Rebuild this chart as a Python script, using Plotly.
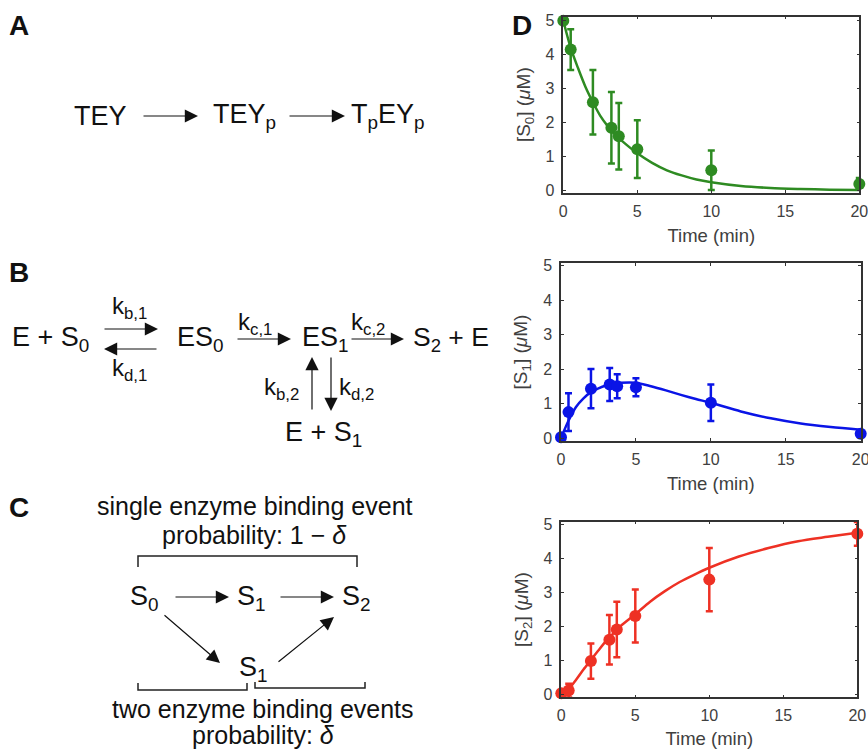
import plotly.graph_objects as go

W, H = 868, 749
# the figure runs a little past the window so the tick labels at x = 20 are kept, and are cut by the window edge
FIG_W = 890
LEFT_PAD = 3
FONT = "Liberation Sans"


def px(x):
    return x / FIG_W


def py(y):
    return 1 - y / H


# ---------- data ----------
time_points = [0, 0.5, 2, 3.25, 3.75, 5, 10, 20]
s0_values = [5.0, 4.15, 2.6, 1.85, 1.6, 1.22, 0.6, 0.2]
s0_errors = [0, 0.6, 0.95, 1.05, 0.98, 0.85, 0.58, 0.17]
s1_values = [0.02, 0.75, 1.43, 1.55, 1.5, 1.47, 1.02, 0.12]
s1_errors = [0, 0.55, 0.57, 0.48, 0.35, 0.26, 0.53, 0.1]
s2_values = [0.02, 0.1, 0.97, 1.6, 1.9, 2.3, 3.37, 4.72]
s2_errors = [0, 0.2, 0.52, 0.73, 0.82, 0.78, 0.93, 0.35]

fit_time = [0, 0.5, 1, 1.5, 2, 2.5, 3, 3.5, 4, 5, 6, 7, 8, 9, 10, 12, 14, 16, 18, 20]
s0_fit = [5.0, 4.2, 3.6, 3.05, 2.6, 2.2, 1.9, 1.65, 1.45, 1.1, 0.82, 0.6, 0.45, 0.33, 0.25, 0.14, 0.08, 0.05, 0.03, 0.02]
s1_fit = [0, 0.5, 0.9, 1.15, 1.33, 1.44, 1.52, 1.57, 1.6, 1.6, 1.5, 1.38, 1.25, 1.13, 1.02, 0.77, 0.57, 0.42, 0.32, 0.24]
s2_fit = [0, 0.15, 0.42, 0.72, 1.0, 1.28, 1.55, 1.78, 2.0, 2.35, 2.72, 3.03, 3.3, 3.52, 3.72, 4.05, 4.3, 4.5, 4.63, 4.75]

x_ticks = [0, 5, 10, 15, 20]
y_ticks = [0, 1, 2, 3, 4, 5]

panels = [
    dict(name="0", color="#2e8b22", vals=s0_values, errs=s0_errors, fit=s0_fit,
         x0=563.3, x20=859.3, left=563.3, right=859.3, top=16.7, bottom=192.7, y0=190.7, y5=20.7),
    dict(name="1", color="#0a14e6", vals=s1_values, errs=s1_errors, fit=s1_fit,
         x0=561, x20=860.7, left=561, right=860.7, top=263.3, bottom=440.7, y0=438, y5=265.5),
    dict(name="2", color="#ee3124", vals=s2_values, errs=s2_errors, fit=s2_fit,
         x0=561.3, x20=857.3, left=561.3, right=857.3, top=521.7, bottom=697.3, y0=694, y5=524.3),
]

# ---------- diagram text: (text, x px, y px, anchor, size, bold) ----------
labels = [
    ("A", 10, 26, "left", 28, True), ("B", 10, 272, "left", 28, True),
    ("C", 10, 507, "left", 28, True), ("D", 513, 26, "left", 28, True),
    ("TEY", 75, 116, "left", 27, False), ("TEY<sub>p</sub>", 214, 116, "left", 27, False),
    ("T<sub>p</sub>EY<sub>p</sub>", 352, 116, "left", 27, False),
    ("E + S<sub>0</sub>", 13, 339, "left", 27, False), ("ES<sub>0</sub>", 178, 339, "left", 27, False),
    ("ES<sub>1</sub>", 303, 339, "left", 27, False), ("S<sub>2</sub> + E", 414, 339, "left", 26.5, False),
    ("E + S<sub>1</sub>", 286, 434, "left", 27, False),
    ("k<sub>b,1</sub>", 113, 307, "left", 24, False), ("k<sub>d,1</sub>", 113, 369, "left", 24, False),
    ("k<sub>c,1</sub>", 239, 323, "left", 24, False), ("k<sub>c,2</sub>", 352, 323, "left", 24, False),
    ("k<sub>b,2</sub>", 265, 388, "left", 24, False), ("k<sub>d,2</sub>", 340, 388, "left", 24, False),
    ("single enzyme binding event", 255, 506, "center", 25, False),
    ("probability: 1 − <i>δ</i>", 255, 535, "center", 25, False),
    ("S<sub>0</sub>", 131, 598, "left", 27, False), ("S<sub>1</sub>", 238, 598, "left", 27, False),
    ("S<sub>2</sub>", 343, 598, "left", 27, False), ("S<sub>1</sub>", 240, 669, "left", 27, False),
    ("two enzyme binding events", 263, 709, "center", 25, False),
    ("probability: <i>δ</i>", 263, 735, "center", 25, False),
]

# arrows: (x start, y start, x end, y end)
arrows = [
    (142, 116, 198, 116), (288, 116, 345, 116),
    (103, 329, 158, 329), (158, 349, 104, 349),
    (236, 339, 291, 339), (350, 339, 404, 339),
    (312, 411, 312, 357), (331, 356, 331, 411),
    (174, 597, 229, 597), (279, 597, 334, 597),
    (163, 614, 220, 663), (277, 663, 334, 617),
]

# brackets: polyline points
brackets = [
    [(138, 567), (138, 556), (357, 556), (357, 567)],
    [(138, 683), (138, 690), (247, 690), (247, 683)],
    [(255, 682), (255, 688), (365, 688), (365, 682)],
]

fig = go.Figure()
layout = dict(
    width=FIG_W, height=H, margin=dict(l=0, r=0, t=0, b=0),
    paper_bgcolor="white", plot_bgcolor="white", showlegend=False,
    font=dict(family=FONT, color="#111111"),
)

for i, p in enumerate(panels):
    n = "" if i == 0 else str(i + 1)
    xa, ya = "x" + n, "y" + n
    fig.add_trace(go.Scatter(x=fit_time, y=p["fit"], mode="lines", xaxis=xa, yaxis=ya,
                             line=dict(color=p["color"], width=2.5, shape="spline", smoothing=0.8),
                             cliponaxis=False, hoverinfo="skip"))
    fig.add_trace(go.Scatter(x=time_points, y=p["vals"], mode="markers", xaxis=xa, yaxis=ya,
                             marker=dict(color=p["color"], size=12),
                             error_y=dict(type="data", array=p["errs"], color=p["color"], thickness=2.5, width=3.5),
                             cliponaxis=False))
    ppx = (p["x20"] - p["x0"]) / 20
    ppy = (p["y0"] - p["y5"]) / 5
    layout["xaxis" + n] = dict(
        domain=[px(p["left"]), px(p["right"])], anchor=ya, automargin=False,
        range=[(p["left"] - p["x0"]) / ppx, (p["right"] - p["x0"]) / ppx],
        tickvals=x_ticks, ticks="inside", ticklen=3, tickcolor="#333333", tickwidth=1,
        ticklabelstandoff=3,
        showline=True, linecolor="#333333", linewidth=1.5, mirror="ticks", showgrid=False, zeroline=False,
        tickfont=dict(family=FONT, size=16, color="#404040"),
        title=dict(text="Time (min)", font=dict(family=FONT, size=18.5, color="#404040"), standoff=10),
    )
    layout["yaxis" + n] = dict(
        domain=[py(p["bottom"]), py(p["top"])], anchor=xa, automargin=False,
        range=[(p["y0"] - p["bottom"]) / ppy, (p["y0"] - p["top"]) / ppy],
        tickvals=y_ticks, ticks="inside", ticklen=3, tickcolor="#333333", tickwidth=1,
        ticklabelstandoff=4,
        showline=True, linecolor="#333333", linewidth=1.5, mirror="ticks", showgrid=False, zeroline=False,
        tickfont=dict(family=FONT, size=16, color="#404040"),
        title=dict(text=f"[S<sub>{p['name']}</sub>] (<i>μ</i>M)", font=dict(family=FONT, size=19, color="#404040"), standoff=10),
    )

annotations = []
for text, x, y, anchor, size, bold in labels:
    annotations.append(dict(
        text=f"<b>{text}</b>" if bold else text,
        x=px(x - LEFT_PAD if anchor == "left" else x), y=py(y), xref="paper", yref="paper",
        xanchor=anchor, yanchor="middle", showarrow=False, font=dict(family=FONT, size=size, color="#111111"),
    ))
for x1, y1, x2, y2 in arrows:
    annotations.append(dict(
        x=px(x2), y=py(y2), ax=x1 - x2, ay=y1 - y2, xref="paper", yref="paper", axref="pixel", ayref="pixel",
        text="", showarrow=True, arrowhead=2, arrowsize=2.2, arrowwidth=1.2, arrowcolor="#111111",
    ))
layout["annotations"] = annotations

shapes = []
for pts in brackets:
    path = "M " + " L ".join(f"{px(x)} {py(y)}" for x, y in pts)
    shapes.append(dict(type="path", path=path, xref="paper", yref="paper", line=dict(color="#222222", width=1.5)))
layout["shapes"] = shapes

fig.update_layout(**layout)
fig.write_html(
    "out.html",
    config=dict(displayModeBar=False),
    post_script="document.documentElement.style.overflow='hidden';document.body.style.margin='0';document.body.style.overflow='hidden';",
)
